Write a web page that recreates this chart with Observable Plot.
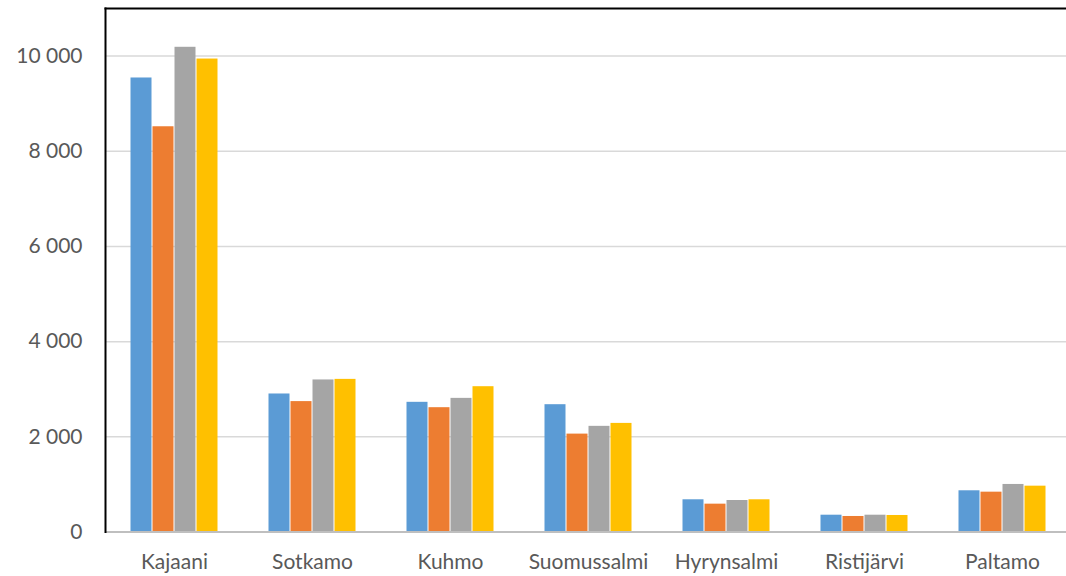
<!DOCTYPE html>
<html>
<head>
<meta charset="utf-8">
<script src="https://cdn.jsdelivr.net/npm/d3@7"></script>
<script src="https://cdn.jsdelivr.net/npm/@observablehq/plot@0.6"></script>
<style>
  html, body { margin: 0; padding: 0; background: #fff; overflow: hidden; }
  #chart { width: 1066px; height: 576px; overflow: hidden; }
  #chart svg { display: block; max-width: none !important; width: 1073px; height: 576px; }
</style>
</head>
<body>
<div id="chart"></div>
<script>
const categories = ["Kajaani", "Sotkamo", "Kuhmo", "Suomussalmi", "Hyrynsalmi", "Ristijärvi", "Paltamo"];
const seriesNames = ["Sarja 1", "Sarja 2", "Sarja 3", "Sarja 4"];
const series1 = [9540, 2900, 2725, 2675, 677, 353, 866];
const series2 = [8515, 2740, 2612, 2057, 585, 326, 837];
const series3 = [10185, 3195, 2808, 2220, 662, 353, 999];
const series4 = [9938, 3207, 3053, 2282, 677, 347, 963];
const seriesColors = ["#5b9bd5", "#ed7d31", "#a5a5a5", "#ffc000"];
const yTicks = [0, 2000, 4000, 6000, 8000, 10000];

const allSeries = [series1, series2, series3, series4];
const data = [];
categories.forEach((c, i) => {
  seriesNames.forEach((s, j) => data.push({category: c, series: s, value: allSeries[j][i]}));
});

const fmt = d => d3.format(",")(d).replace(/,/g, " ");

const chart = Plot.plot({
  width: 1073,
  height: 576,
  marginLeft: 103,
  marginRight: 0,
  marginTop: 8,
  marginBottom: 44.5,
  style: {fontFamily: "Lato, sans-serif", fontSize: "21px", color: "#595959", background: "#fff"},
  fx: {domain: categories, padding: 0, label: null, axis: null},
  x: {domain: seriesNames, paddingInner: 0, paddingOuter: 1.115, axis: null},
  y: {domain: [0, 11000], label: null, axis: null},
  color: {domain: seriesNames, range: seriesColors},
  marks: [
    Plot.ruleY(yTicks, {stroke: "#d9d9d9", strokeWidth: 1.5}),
    Plot.axisY(yTicks, {anchor: "left", tickSize: 0, tickPadding: 23, tickFormat: fmt, fill: "#595959", fontSize: 21, label: null}),
    Plot.axisFx({anchor: "bottom", tickSize: 0, tickPadding: 22, fill: "#595959", fontSize: 21, label: null}),
    Plot.barY(data, {fx: "category", x: "series", y: "value", fill: "series", insetLeft: 0.5, insetRight: 0.5}),
    Plot.ruleY([0], {stroke: "#bfbfbf", strokeWidth: 2}),
    Plot.frame({anchor: "left", stroke: "#000", strokeWidth: 2, facet: "super"}),
    Plot.frame({anchor: "top", stroke: "#000", strokeWidth: 2, facet: "super"})
  ]
});
document.getElementById("chart").appendChild(chart);
</script>
</body>
</html>
